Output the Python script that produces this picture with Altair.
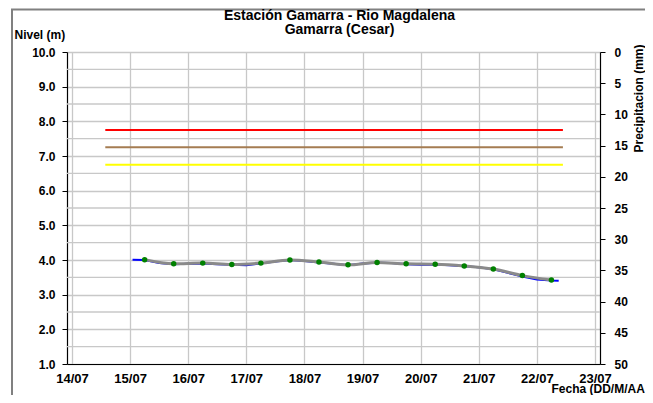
import altair as alt
import pandas as pd

# ---------------- data ----------------
blue_times = [
    "2013-07-15T01:00", "2013-07-15T06:00", "2013-07-15T12:00", "2013-07-15T18:00",
    "2013-07-16T00:00", "2013-07-16T06:00", "2013-07-16T12:00", "2013-07-16T18:00",
    "2013-07-17T00:00", "2013-07-17T06:00", "2013-07-17T12:00", "2013-07-17T18:00",
    "2013-07-18T00:00", "2013-07-18T06:00", "2013-07-18T12:00", "2013-07-18T18:00",
    "2013-07-19T00:00", "2013-07-19T06:00", "2013-07-19T12:00", "2013-07-19T18:00",
    "2013-07-20T00:00", "2013-07-20T06:00", "2013-07-20T12:00", "2013-07-20T18:00",
    "2013-07-21T00:00", "2013-07-21T06:00", "2013-07-21T12:00", "2013-07-21T18:00",
    "2013-07-22T00:00", "2013-07-22T06:00", "2013-07-22T09:00",
]
blue_levels = [
    4.01, 4.00, 3.91, 3.88,
    3.89, 3.90, 3.88, 3.86,
    3.85, 3.90, 3.96, 4.00,
    3.97, 3.93, 3.89, 3.85,
    3.90, 3.92, 3.91, 3.88,
    3.86, 3.87, 3.85, 3.82,
    3.79, 3.73, 3.63, 3.52,
    3.44, 3.41, 3.40,
]

dot_times = [
    "2013-07-15T06:00", "2013-07-15T18:00", "2013-07-16T06:00", "2013-07-16T18:00",
    "2013-07-17T06:00", "2013-07-17T18:00", "2013-07-18T06:00", "2013-07-18T18:00",
    "2013-07-19T06:00", "2013-07-19T18:00", "2013-07-20T06:00", "2013-07-20T18:00",
    "2013-07-21T06:00", "2013-07-21T18:00", "2013-07-22T06:00",
]
dot_levels = [
    4.01, 3.89, 3.91, 3.87,
    3.91, 4.00, 3.94, 3.86,
    3.93, 3.89, 3.88, 3.83,
    3.74, 3.55, 3.42,
]

alert_names = ["Roja", "Naranja", "Amarilla"]
alert_levels = [7.75, 7.25, 6.75]
alert_colors = ["#ff0000", "#a57c52", "#ffff00"]
alert_start = "2013-07-14T13:45"
alert_end = "2013-07-22T10:45"

y_ticks = [1, 2, 3, 4, 5, 6, 7, 8, 9, 10]
half_grid = [1.5, 2.5, 3.5, 4.5, 5.5, 6.5, 7.5, 8.5, 9.5]
x_days = [14, 15, 16, 17, 18, 19, 20, 21, 22, 23]
precip_ticks = [0, 5, 10, 15, 20, 25, 30, 35, 40, 45, 50]
precip_days = ["2013-07-15T12:00", "2013-07-16T12:00", "2013-07-17T12:00",
               "2013-07-18T12:00", "2013-07-19T12:00", "2013-07-20T12:00",
               "2013-07-21T12:00", "2013-07-22T12:00"]
precip_mm = [0, 0, 0, 0, 0, 0, 0, 0]

FONT = "Liberation Sans"

# ---------------- tables ----------------
blue_df = pd.DataFrame({"t": blue_times, "level": blue_levels})
dot_df = pd.DataFrame({"t": dot_times, "level": dot_levels})
alert_df = pd.DataFrame({"name": alert_names, "level": alert_levels,
                         "t": [alert_start] * 3, "t1": [alert_end] * 3})
half_df = pd.DataFrame({"level": half_grid})
precip_df = pd.DataFrame({"t": precip_days, "mm": precip_mm})
frame_df = pd.DataFrame({"a": [0]})

x_scale = alt.Scale(domain=[alt.DateTime(year=2013, month=7, date=14),
                            alt.DateTime(year=2013, month=7, date=23)])
x_axis = alt.Axis(
    values=[alt.DateTime(year=2013, month=7, date=d) for d in x_days],
    format="%d/%m", grid=True, gridColor="#c8c8c8", gridWidth=1.3,
    domainColor="black", domainWidth=1.2, ticks=False, tickSize=0,
    labelPadding=8, labelFontSize=13, labelFont=FONT, labelFontWeight="bold",
    labelColor="black",
    title="Fecha (DD/M/AA", titleX=484, titleY=24, titleAlign="left",
    titleBaseline="middle", titleFontSize=12, titleFont=FONT,
    titleFontWeight="bold", titleColor="black",
)
X = alt.X("t:T", scale=x_scale, axis=x_axis)

y_scale = alt.Scale(domain=[1, 10], nice=False)
y_axis = alt.Axis(
    values=y_ticks, format=".1f", grid=True, gridColor="#c8c8c8", gridWidth=1.3,
    domainColor="black", domainWidth=1.2, tickColor="black", tickSize=5,
    labelPadding=7, labelFontSize=12, labelFont=FONT, labelFontWeight="bold",
    labelColor="black",
    title="Nivel (m)", titleAngle=0, titleX=-53, titleY=-18, titleAlign="left",
    titleBaseline="middle", titleFontSize=12, titleFont=FONT,
    titleFontWeight="bold", titleColor="black",
)
Y = alt.Y("level:Q", scale=y_scale, axis=y_axis)

frame = alt.Chart(frame_df).mark_rect(
    fill="transparent", stroke="#808080", strokeWidth=2
).encode(
    x=alt.value(-55), x2=alt.value(700), y=alt.value(-42.5), y2=alt.value(420)
)

half = alt.Chart(half_df).mark_rule(color="#c8c8c8", strokeWidth=1.3).encode(y=Y)

alerts = alt.Chart(alert_df).mark_rule(strokeWidth=2).encode(
    x=X, x2="t1:T", y=Y,
    color=alt.Color("name:N", scale=alt.Scale(domain=alert_names, range=alert_colors),
                    legend=None),
)

blue = alt.Chart(blue_df).mark_line(color="#0000ff", strokeWidth=2).encode(x=X, y=Y)
gray = alt.Chart(dot_df).mark_line(color="#8a8a8a", strokeWidth=3,
                                   interpolate="monotone").encode(x=X, y=Y)
dots = alt.Chart(dot_df).mark_circle(color="#008000", size=30, opacity=1).encode(x=X, y=Y)

left = alt.layer(frame, half, alerts, blue, gray, dots)

precip = alt.Chart(precip_df).mark_bar(opacity=0).encode(
    x=X,
    y=alt.Y("mm:Q", scale=alt.Scale(domain=[0, 50], reverse=True, nice=False),
            axis=alt.Axis(orient="right", values=precip_ticks, grid=False,
                          domainColor="black", domainWidth=1.2, tickColor="black",
                          tickSize=5, labelPadding=9, labelFontSize=12,
                          labelFont=FONT, labelFontWeight="bold", labelColor="black",
                          title="Precipitacion (mm)", titleAngle=270, titleX=38,
                          titleY=46, titleBaseline="middle", titleAlign="center",
                          titleFontSize=12, titleFont=FONT, titleFontWeight="bold",
                          titleColor="black")),
)

chart = alt.layer(left, precip).resolve_scale(y="independent").properties(
    width=533, height=312,
    padding={"left": 59, "top": 44, "right": 45, "bottom": 31},
    autosize=alt.AutoSizeParams(type="none"),
    title=alt.TitleParams(
        ["Estación Gamarra - Rio Magdalena", "Gamarra (Cesar)"],
        font=FONT, fontSize=14, fontWeight="bold", color="black",
        anchor="middle", frame="group", offset=0, dy=28, dx=6, lineHeight=14,
    ),
).configure_view(stroke=None).configure(background="white")

chart.save("out.html", embed_options={"renderer": "svg", "actions": False})
